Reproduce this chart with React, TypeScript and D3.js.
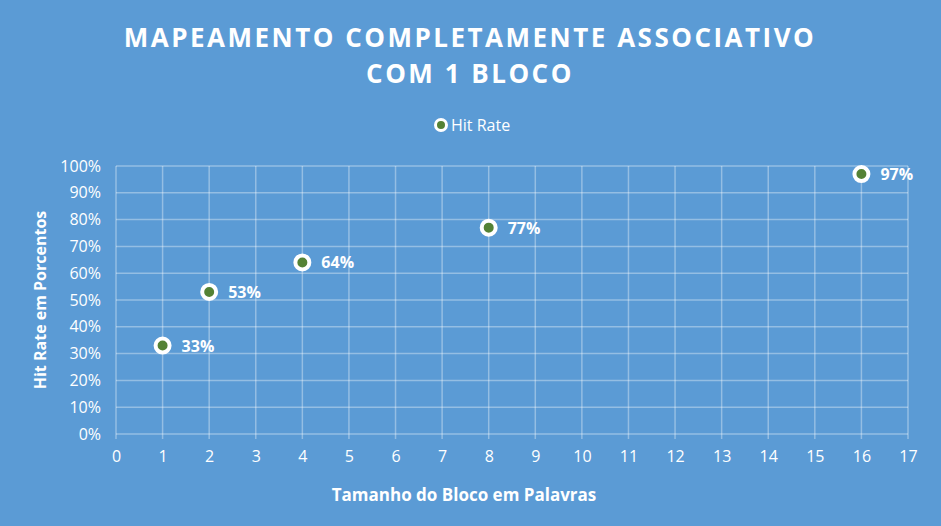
import React, { useEffect, useRef } from 'react';
import * as d3 from 'd3';

// Hit rate measured for each block size (words per block)
const blockSizes = [1, 2, 4, 8, 16];
const hitRates = [0.33, 0.53, 0.64, 0.77, 0.97];
const titleLines = ['MAPEAMENTO COMPLETAMENTE ASSOCIATIVO', 'COM 1 BLOCO'];
const seriesName = 'Hit Rate';
const xTicks = d3.range(0, 18);
const yTicks = d3.range(0, 1.01, 0.1);

const App = () => {
  const svgRef = useRef<SVGSVGElement>(null);

  useEffect(() => {
    const svg = d3.select(svgRef.current);
    svg.selectAll('*').remove();

    const width = 941;
    const height = 526;
    const margin = { top: 166, right: 33, bottom: 92, left: 116 };
    const font = '"Open Sans", "DejaVu Sans", sans-serif';
    const bg = '#5b9bd5';
    const green = '#548235';
    const gridColor = 'rgba(255,255,255,0.35)';

    svg.attr('width', width).attr('height', height).style('font-family', font);
    svg.append('rect').attr('width', width).attr('height', height).attr('fill', bg);

    const x = d3.scaleLinear().domain([0, 17]).range([margin.left, width - margin.right]);
    const y = d3.scaleLinear().domain([0, 1]).range([height - margin.bottom, margin.top]);

    // title
    svg.append('g')
      .selectAll('text')
      .data(titleLines)
      .enter()
      .append('text')
      .attr('x', 470)
      .attr('y', (d, i) => 47 + i * 36)
      .attr('text-anchor', 'middle')
      .attr('fill', 'white')
      .style('font-size', '26px')
      .style('font-weight', 'bold')
      .style('letter-spacing', '2.5px')
      .text((d) => d);

    // legend
    const legend = svg.append('g').attr('transform', 'translate(441,125)');
    legend.append('circle').attr('r', 5.5).attr('fill', green).attr('stroke', 'white').attr('stroke-width', 3);
    legend.append('text').attr('x', 10).attr('y', 5.5).attr('fill', 'white').style('font-size', '16px').text(seriesName);

    // grid
    const grid = svg.append('g');
    grid.selectAll('.vg').data(xTicks).enter().append('line')
      .attr('x1', (d) => x(d)).attr('x2', (d) => x(d))
      .attr('y1', y(1)).attr('y2', y(0) + 5)
      .attr('stroke', gridColor).attr('stroke-width', 1.5);
    grid.selectAll('.hg').data(yTicks).enter().append('line')
      .attr('x1', x(0)).attr('x2', x(17))
      .attr('y1', (d) => y(d)).attr('y2', (d) => y(d))
      .attr('stroke', gridColor).attr('stroke-width', 1.5);

    // x axis labels
    svg.append('g')
      .attr('transform', `translate(0,${y(0)})`)
      .call(d3.axisBottom(x).tickValues(xTicks).tickSize(0).tickPadding(17).tickFormat(d3.format('d')))
      .call((g) => g.select('.domain').remove())
      .selectAll('text')
      .attr('fill', 'white')
      .style('font-size', '16px')
      .style('font-family', font);

    // y axis labels
    svg.append('g')
      .attr('transform', `translate(${x(0)},0)`)
      .call(d3.axisLeft(y).tickValues(yTicks).tickSize(0).tickPadding(15).tickFormat(d3.format('.0%')))
      .call((g) => g.select('.domain').remove())
      .selectAll('text')
      .attr('fill', 'white')
      .style('font-size', '16px')
      .style('font-family', font);

    // axis titles
    svg.append('text')
      .attr('x', 464).attr('y', 501)
      .attr('text-anchor', 'middle').attr('fill', 'white')
      .style('font-size', '17px').style('font-weight', 'bold')
      .text('Tamanho do Bloco em Palavras');
    svg.append('text')
      .attr('transform', `translate(46,${(y(0) + y(1)) / 2}) rotate(-90)`)
      .attr('text-anchor', 'middle').attr('fill', 'white')
      .style('font-size', '16px').style('font-weight', 'bold')
      .text('Hit Rate em Porcentos');

    // points
    const data = blockSizes.map((b, i) => ({ b, v: hitRates[i] }));
    svg.append('g').selectAll('circle').data(data).enter().append('circle')
      .attr('cx', (d) => x(d.b)).attr('cy', (d) => y(d.v))
      .attr('r', 7).attr('fill', green).attr('stroke', 'white').attr('stroke-width', 4);

    svg.append('g').selectAll('text').data(data).enter().append('text')
      .attr('x', (d) => x(d.b) + 19).attr('y', (d) => y(d.v) + 6)
      .attr('fill', 'white')
      .style('font-size', '16px').style('font-weight', 'bold')
      .text((d) => d3.format('.0%')(d.v));
  }, []);

  return (
    <div style={{ position: 'fixed', left: 0, top: 0 }}>
      <svg ref={svgRef} style={{ display: 'block' }}></svg>
    </div>
  );
};

export default App;
